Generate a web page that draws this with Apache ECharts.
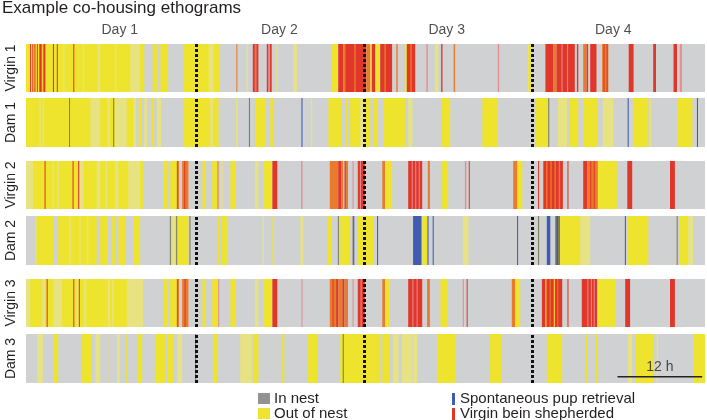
<!DOCTYPE html>
<html><head><meta charset="utf-8">
<script src="https://cdn.jsdelivr.net/npm/echarts@6/dist/echarts.min.js"></script>
<style>html,body{margin:0;padding:0;background:#fff}#c{width:707px;height:420px}</style>
</head><body><div id="c"></div>
<script>
// ---------- DATA (hours from start of recording) ----------
const titleText = 'Example co-housing ethograms';
const rowNames = ['Virgin 1', 'Dam 1', 'Virgin 2', 'Dam 2', 'Virgin 3', 'Dam 3'];
const dayLabels = ['Day 1', 'Day 2', 'Day 3', 'Day 4'];
const dayLabelHours = [13.1, 35.9, 59.8, 83.6];
const dayBoundaries = [24, 48, 72];
const recordStart = -0.3;
const recordEnd = 96.7;
const scaleBarHours = [84.2, 96.3];
const scaleBarLabel = '12 h';
const legendLabels = ['In nest', 'Out of nest', 'Spontaneous pup retrieval', 'Virgin bein shepherded'];
// codes: Y out of nest, y brief out of nest, R shepherded, O shepherded+out, P brief shepherded,
//        B pup retrieval, D dam marker
const virgin1 = [
  [-0.3,16.6,'Y'],[5.0,5.2,'y'],[7.8,8.0,'y'],[9.9,10.3,'y'],[12.4,12.6,'y'],[14.6,16.0,'y'],
  [17.8,18.4,'Y'],[18.9,20.0,'Y'],
  [0.28,0.42,'R'],[0.6,0.75,'R'],[0.9,1.05,'R'],[1.25,1.4,'R'],[1.6,1.95,'R'],[2.1,2.45,'O'],[2.25,2.45,'R'],
  [3.55,3.7,'R'],[4.1,4.25,'R'],[6.45,6.6,'R'],
  [22.2,27.4,'Y'],[25.8,26.5,'y'],
  [29.75,29.9,'O'],[31.2,31.4,'y'],[32.1,32.4,'R'],[32.4,32.6,'O'],[32.6,32.9,'R'],[34.1,34.35,'R'],[34.35,34.55,'P'],
  [34.55,34.8,'R'],[35.45,35.6,'y'],[37.9,38.4,'y'],
  [43.4,44.3,'Y'],[44.3,45.0,'R'],[45.0,45.3,'O'],[45.3,48.3,'R'],[46.6,46.8,'O'],[48.3,48.9,'O'],[48.9,49.1,'Y'],
  [49.1,49.6,'R'],[49.6,50.3,'Y'],[50.3,52.0,'R'],[50.9,51.1,'O'],[52.6,52.8,'O'],[53.8,54.1,'Y'],[54.1,55.3,'R'],
  [54.6,54.8,'O'],[56.9,57.1,'P'],[58.1,58.6,'y'],[59.0,59.2,'R'],[60.8,61.0,'O'],[67.1,67.3,'P'],[71.4,71.6,'y'],
  [71.5,71.95,'Y'],[73.9,75.0,'R'],[75.0,75.5,'O'],[75.5,78.1,'R'],[76.2,76.3,'P'],[77.0,77.1,'P'],[78.4,78.6,'R'],
  [79.3,79.8,'O'],[79.8,80.0,'R'],[80.3,81.2,'R'],[82.0,82.9,'O'],[82.2,82.35,'R'],[82.65,82.8,'R'],[85.8,86.5,'R'],
  [89.3,89.7,'R'],[92.2,92.7,'R'],[93.1,93.4,'P']
];
const dam1 = [
  [-0.3,15.0,'Y'],[1.6,1.8,'y'],[2.1,2.3,'y'],[8.9,10.3,'y'],[11.3,11.7,'y'],[12.4,14.1,'y'],
  [15.0,15.4,'y'],[15.8,16.2,'Y'],[16.6,17.0,'y'],[17.6,18.0,'Y'],[18.4,19.0,'y'],
  [5.85,5.98,'D'],[12.15,12.3,'D'],
  [22.2,27.2,'Y'],[26.0,26.4,'y'],[29.7,29.9,'y'],[31.55,31.7,'D'],[32.4,33.9,'Y'],[34.6,35.0,'Y'],[39.05,39.2,'B'],
  [40.4,40.6,'y'],[42.9,44.8,'Y'],[45.3,45.7,'Y'],
  [46.0,47.4,'Y'],[47.4,48.1,'y'],[48.1,48.9,'Y'],[49.3,49.9,'Y'],[50.7,53.9,'Y'],[54.3,54.9,'y'],[59.1,60.3,'Y'],
  [64.9,67.1,'Y'],
  [72.4,74.3,'Y'],[74.3,74.45,'D'],[75.7,77.0,'y'],[77.4,78.6,'Y'],[79.3,81.4,'Y'],[82.1,83.6,'y'],[85.65,85.8,'B'],
  [86.4,88.6,'Y'],[88.8,89.0,'y'],[92.7,94.9,'Y'],[95.55,95.7,'B']
];
const virgin2 = [
  [-0.3,16.4,'Y'],[-0.3,0.7,'y'],[3.5,3.7,'y'],[4.2,4.4,'y'],[7.4,7.9,'y'],[9.8,10.3,'y'],[11.1,11.3,'y'],
  [12.4,12.9,'y'],[14.3,16.0,'y'],
  [2.35,2.5,'R'],[6.35,6.5,'R'],[7.15,7.3,'R'],
  [19.3,19.9,'Y'],[20.3,21.3,'Y'],[21.25,21.4,'R'],[21.4,21.55,'O'],[22.0,22.9,'O'],[22.3,22.45,'R'],
  [24.9,25.3,'Y'],[26.3,27.1,'Y'],[27.05,27.2,'O'],[27.6,27.8,'y'],[28.9,29.6,'Y'],[32.4,32.9,'y'],[33.6,34.9,'Y'],
  [34.9,35.6,'R'],[39.0,39.2,'P'],
  [43.1,44.3,'O'],[44.3,44.7,'R'],[44.7,45.0,'O'],[45.2,45.4,'R'],[45.4,45.7,'O'],
  [46.35,46.5,'P'],[47.1,48.1,'R'],[47.4,47.5,'P'],[50.6,51.0,'O'],[51.0,52.0,'Y'],[54.3,56.3,'R'],[54.8,54.9,'P'],
  [55.3,55.45,'P'],[55.8,55.9,'P'],[57.1,57.4,'O'],[59.1,60.0,'Y'],[62.4,62.6,'P'],[62.95,63.1,'R'],[69.3,69.9,'O'],
  [69.9,70.6,'Y'],
  [72.85,73.0,'R'],[73.6,76.4,'R'],[74.0,74.2,'O'],[74.6,74.8,'O'],[75.2,75.4,'O'],[75.8,76.0,'O'],[77.05,77.2,'R'],
  [79.3,79.9,'R'],[79.9,81.4,'O'],[80.3,80.45,'R'],[80.8,80.95,'R'],[81.4,84.1,'Y'],[85.6,86.3,'R'],[91.7,92.4,'R']
];
const dam2 = [
  [1.0,1.2,'y'],[1.2,3.6,'Y'],[4.3,9.8,'Y'],[5.9,6.1,'y'],[7.3,7.5,'y'],[8.4,8.6,'y'],[10.3,11.3,'Y'],[12.0,12.4,'Y'],
  [12.9,13.9,'Y'],[15.0,16.0,'Y'],
  [20.25,20.4,'D'],[20.6,21.0,'y'],[21.15,21.3,'D'],
  [21.4,22.9,'Y'],[23.05,23.2,'D'],[27.0,27.4,'Y'],[27.7,28.4,'Y'],[33.5,33.7,'y'],[34.9,35.1,'Y'],[38.9,39.3,'y'],
  [42.7,43.4,'Y'],[44.25,44.4,'D'],[44.6,46.0,'Y'],[46.35,46.5,'D'],
  [46.45,46.6,'B'],[47.0,49.3,'Y'],[49.85,50.0,'B'],[55.0,56.2,'B'],[56.3,57.0,'Y'],[57.05,57.2,'B'],[57.8,57.95,'B'],
  [62.1,62.9,'y'],[69.85,70.0,'B'],
  [72.85,73.0,'D'],[74.1,74.6,'B'],[75.3,76.0,'D'],[75.5,75.7,'B'],[76.0,78.9,'Y'],[78.9,80.3,'y'],[85.25,85.4,'B'],
  [85.6,88.6,'Y'],[92.65,92.8,'D'],[93.1,94.3,'Y'],[94.3,95.0,'y']
];
const virgin3 = [
  [-0.3,16.4,'Y'],[-0.3,0.3,'y'],[2.0,2.4,'y'],[3.6,4.8,'y'],[6.9,7.1,'y'],[8.0,8.3,'y'],[11.4,11.7,'y'],[12.0,12.2,'y'],
  [14.1,16.4,'y'],
  [2.65,2.8,'R'],[6.45,6.6,'R'],[7.25,7.4,'R'],
  [19.3,20.0,'Y'],[20.3,21.3,'Y'],[21.25,21.4,'R'],[21.4,21.55,'O'],[22.0,22.9,'O'],[22.35,22.5,'R'],
  [24.9,25.3,'Y'],[26.3,27.1,'Y'],[27.15,27.3,'P'],[28.9,29.6,'Y'],[32.4,32.9,'y'],[33.6,34.9,'Y'],[34.9,35.6,'R'],
  [39.05,39.2,'P'],
  [43.1,44.0,'O'],[43.5,43.6,'R'],[44.0,44.3,'R'],[44.3,44.9,'O'],[44.9,45.2,'R'],[45.2,45.7,'O'],
  [46.35,46.5,'P'],[47.1,48.1,'R'],[47.5,47.6,'P'],[50.6,51.0,'O'],[51.0,51.7,'Y'],[54.3,56.3,'R'],[54.9,55.0,'P'],
  [55.5,55.6,'P'],[57.0,57.4,'O'],[58.9,59.9,'Y'],[62.1,62.25,'P'],[62.65,62.8,'R'],[69.1,69.6,'O'],[69.6,70.3,'Y'],
  [73.4,76.3,'R'],[73.9,74.05,'Y'],[74.5,74.65,'O'],[75.1,75.25,'Y'],[75.6,75.75,'O'],[77.05,77.2,'R'],[79.1,81.3,'R'],
  [79.9,80.0,'P'],[80.4,80.5,'P'],[80.8,80.9,'P'],[81.3,83.9,'Y'],[85.3,86.0,'R'],[91.7,92.4,'R']
];
const dam3 = [
  [1.3,2.1,'y'],[3.6,4.3,'Y'],[7.7,9.1,'Y'],[9.6,10.3,'y'],[11.3,11.45,'Y'],[12.7,13.1,'y'],[13.9,14.1,'Y'],
  [15.6,16.3,'Y'],[18.1,19.6,'Y'],[19.9,20.7,'Y'],[21.3,22.0,'y'],
  [23.85,24.0,'D'],[26.4,27.1,'Y'],[30.3,32.0,'y'],[32.1,32.9,'Y'],[36.3,36.6,'Y'],[40.0,41.3,'Y'],[44.6,50.3,'Y'],
  [44.95,45.1,'D'],[50.6,51.7,'Y'],[52.1,52.9,'y'],[53.4,54.9,'y'],[55.0,55.6,'y'],[58.4,61.0,'Y'],[66.0,67.7,'Y'],
  [74.1,76.3,'Y'],[79.6,79.9,'Y'],[81.1,81.4,'Y'],[85.7,86.3,'y'],[86.7,89.3,'Y'],[89.8,90.0,'y'],[95.0,95.6,'Y'],
  [95.7,96.7,'Y']
];
const rowData = [virgin1, dam1, virgin2, dam2, virgin3, dam3];

// ---------- STYLE / LAYOUT ----------
const COLORS = {N:'#cfd1d3', Y:'#eee42e', y:'#e7e382', O:'#ea7a2c', P:'#e58e8e', R:'#e1372b', D:'#7d7e58', B:'#3d5cb2'};
const codeList = Object.keys(COLORS);
const FONT = '"Liberation Sans", Arial, sans-serif';
const TXT = '#231f20';
const rowTops = [44, 98, 161, 216, 279, 334];
const rowHeights = [48, 49, 48, 49, 48, 49];

const grids = [], xAxes = [], yAxes = [], series = [];
rowNames.forEach((name, i) => {
  grids.push({left: 26, right: 2, top: rowTops[i], height: rowHeights[i],
    containLabel: false, outerBoundsMode: 'none'});
  xAxes.push({type: 'value', gridIndex: i, min: recordStart, max: recordEnd, show: false});
  yAxes.push({type: 'value', gridIndex: i, min: 0, max: 1,
    name: name, nameLocation: 'middle', nameRotate: 90, nameGap: 8,
    nameTextStyle: {fontFamily: FONT, fontSize: 14, color: TXT},
    axisLine: {show: false}, axisTick: {show: false}, axisLabel: {show: false}, splitLine: {show: false}});
  const data = [[recordStart, recordEnd, codeList.indexOf('N')]]
    .concat(rowData[i].map(d => [d[0], d[1], codeList.indexOf(d[2])]));
  series.push({
    type: 'custom', xAxisIndex: i, yAxisIndex: i, silent: true,
    encode: {x: [0, 1]},
    data: data,
    renderItem: function (params, api) {
      const s = api.coord([api.value(0), 1]);
      const e = api.coord([api.value(1), 0]);
      return {type: 'rect',
        shape: {x: s[0], y: s[1], width: Math.max(e[0] - s[0], 1), height: e[1] - s[1]},
        style: {fill: COLORS[codeList[api.value(2)]]}};
    },
    markLine: {silent: true, symbol: 'none', label: {show: false},
      lineStyle: {color: '#111', type: [3, 2], width: 3},
      data: dayBoundaries.map(v => ({xAxis: v}))}
  });
});
// Day labels above first row
series.push({type: 'scatter', xAxisIndex: 0, yAxisIndex: 0, symbolSize: 1, silent: true,
  itemStyle: {color: 'rgba(0,0,0,0)'},
  data: dayLabels.map((d, k) => ({value: [dayLabelHours[k], 1], name: d})),
  label: {show: true, position: 'top', distance: 6, formatter: p => p.name,
    fontFamily: FONT, fontSize: 14, color: TXT}});
// Scale bar in last row
const last = rowNames.length - 1;
series.push({type: 'line', xAxisIndex: last, yAxisIndex: last, silent: true, symbol: 'none',
  lineStyle: {color: '#222', width: 1.5},
  data: [[scaleBarHours[0], 0.13], [scaleBarHours[1], 0.13]]});
series.push({type: 'scatter', xAxisIndex: last, yAxisIndex: last, symbolSize: 1, silent: true,
  itemStyle: {color: 'rgba(0,0,0,0)'},
  data: [{value: [(scaleBarHours[0] + scaleBarHours[1]) / 2, 0.13], name: scaleBarLabel}],
  label: {show: true, position: 'top', distance: 2, formatter: p => p.name,
    fontFamily: FONT, fontSize: 14, color: TXT}});

const LF = '15px ' + FONT;
const legendGraphic = [
  {type: 'rect', left: 258, top: 393, shape: {width: 12, height: 11}, style: {fill: '#929292'}},
  {type: 'text', left: 274, top: 391, style: {text: legendLabels[0], font: LF, fill: TXT}},
  {type: 'rect', left: 258, top: 408, shape: {width: 12, height: 11}, style: {fill: COLORS.Y}},
  {type: 'text', left: 274, top: 406, style: {text: legendLabels[1], font: LF, fill: TXT}},
  {type: 'rect', left: 452, top: 393, shape: {width: 3, height: 12}, style: {fill: COLORS.B}},
  {type: 'text', left: 460, top: 391, style: {text: legendLabels[2], font: LF, fill: TXT}},
  {type: 'rect', left: 452, top: 408, shape: {width: 3, height: 12}, style: {fill: COLORS.R}},
  {type: 'text', left: 460, top: 406, style: {text: legendLabels[3], font: LF, fill: TXT}}
];

const chart = echarts.init(document.getElementById('c'));
chart.setOption({
  animation: false,
  backgroundColor: '#fff',
  title: {text: titleText, left: 0, top: 0, padding: [0, 2],
    textStyle: {fontFamily: FONT, fontSize: 17, fontWeight: 'normal', color: TXT}},
  grid: grids, xAxis: xAxes, yAxis: yAxes, series: series,
  graphic: legendGraphic
});
</script></body></html>
